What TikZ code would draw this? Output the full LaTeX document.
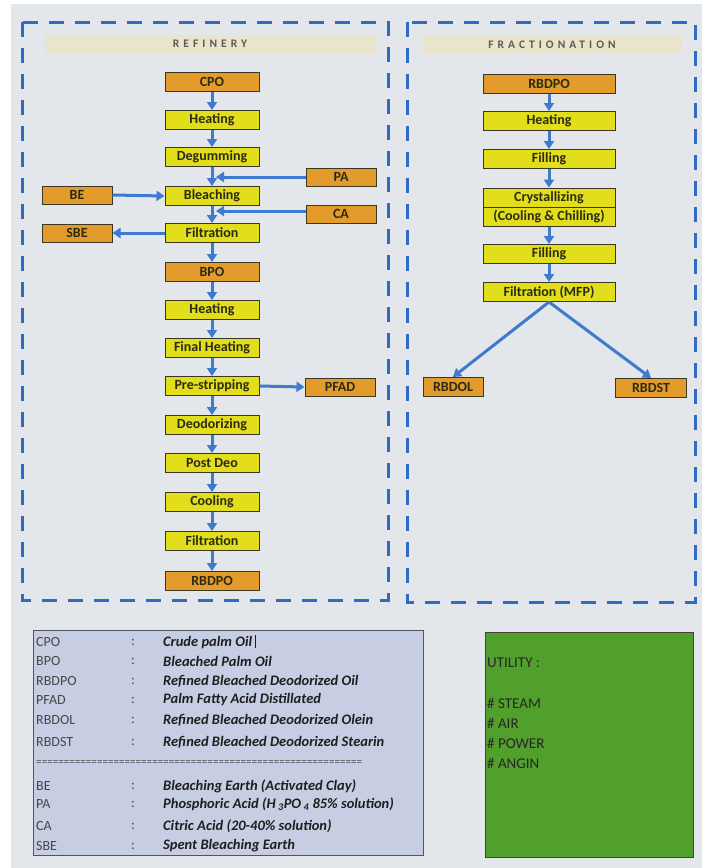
\documentclass[tikz,border=0pt]{standalone}
\usepackage{fontspec}
\setmainfont{Carlito}
\usetikzlibrary{arrows.meta}
\definecolor{bggray}{HTML}{E3E6EA}
\definecolor{dashblue}{HTML}{2F6BC2}
\definecolor{arrowblue}{HTML}{3E7AD0}
\definecolor{procyellow}{HTML}{E2DE1C}
\definecolor{prodorange}{HTML}{E39C2C}
\definecolor{boxline}{HTML}{3A3820}
\definecolor{titlebg}{HTML}{EAE4CB}
\definecolor{titletext}{HTML}{5A5A5A}
\definecolor{legendbg}{HTML}{C7CEE4}
\definecolor{legendline}{HTML}{505560}
\definecolor{utilgreen}{HTML}{51A02C}
\definecolor{labeltext}{HTML}{2C2A12}
\begin{document}
\begin{tikzpicture}[x=1pt,y=-1pt,
  proc/.style={draw=boxline, line width=1pt, fill=procyellow, minimum width=94pt,
    minimum height=19pt, inner sep=0pt, text=labeltext,
    font=\fontsize{14}{16}\selectfont\bfseries},
  prod/.style={proc, fill=prodorange},
  sidebox/.style={prod, minimum width=70pt, minimum height=18pt},
  fracbox/.style={proc, minimum width=132pt},
  arr/.style={draw=arrowblue, line width=3pt, -{Triangle[length=8pt,width=10pt]}},
  dashborder/.style={draw=dashblue, line width=3pt, dash pattern=on 15pt off 11pt},
  titlebar/.style={fill=titlebg, minimum height=18pt, inner sep=0pt, text=titletext,
    font=\fontsize{11.5}{13}\selectfont\bfseries\addfontfeature{LetterSpace=35}},
  abbr/.style={anchor=west, inner sep=0pt, text=black!72, font=\fontsize{14}{16}\selectfont},
  desc/.style={anchor=west, inner sep=0pt, text=black!88, font=\fontsize{14.5}{16}\selectfont\bfseries\itshape},
  util/.style={anchor=west, inner sep=0pt, text=black!85, font=\fontsize{15}{17}\selectfont}
]
\useasboundingbox (0,0) rectangle (702,868);
\fill[white] (0,0) rectangle (702,868);
\fill[bggray] (11,4) rectangle (702,868);

% panels
\draw[dashborder] (22,22) rectangle (388,600);
\draw[dashborder] (407,22) rectangle (695,602);
\node[titlebar, minimum width=330pt] (tref) at (210,44) {REFINERY};
\node[titlebar, minimum width=259pt] (tfrac) at (552,45) {FRACTIONATION};

% refinery column
\node[prod] (cpo)   at (212,82)  {CPO};
\node[proc] (heat1) at (212,120) {Heating};
\node[proc] (degum) at (212,157) {Degumming};
\node[proc] (bleach) at (212,196) {Bleaching};
\node[proc] (filt1) at (212,233) {Filtration};
\node[prod] (bpo)   at (212,272) {BPO};
\node[proc] (heat2) at (212,310) {Heating};
\node[proc] (fheat) at (212,348) {Final Heating};
\node[proc] (pre)   at (212,386) {Pre-stripping};
\node[proc] (deo)   at (212,425) {Deodorizing};
\node[proc] (post)  at (212,463) {Post Deo};
\node[proc] (cool)  at (212,502) {Cooling};
\node[proc] (filt2) at (212,541) {Filtration};
\node[prod] (rbdpo1) at (212,581) {RBDPO};

\node[sidebox] (be)  at (77,195)  {BE};
\node[sidebox] (sbe) at (77,233)  {SBE};
\node[sidebox] (pa)  at (341,177) {PA};
\node[sidebox] (ca)  at (341,214) {CA};
\node[sidebox] (pfad) at (340,387) {PFAD};

\foreach \a/\b in {cpo/heat1, heat1/degum, degum/bleach, bleach/filt1, filt1/bpo,
  bpo/heat2, heat2/fheat, fheat/pre, pre/deo, deo/post, post/cool, cool/filt2, filt2/rbdpo1}
  \draw[arr] (\a.south) -- (\b.north);

\coordinate (jx) at (216,0);
\draw[arr] (pa.west) -- (pa.west -| jx);
\draw[arr] ([yshift=3pt]ca.west) -- ([yshift=3pt]ca.west -| jx);
\draw[arr] (be.east) -- (bleach.west);
\draw[arr] (filt1.west) -- (sbe.east);
\draw[arr] (pre.east) -- (pfad.west);

% fractionation column
\node[fracbox, fill=prodorange] (rbdpo2) at (549,84) {RBDPO};
\node[fracbox] (fheat1) at (549,121) {Heating};
\node[fracbox] (fill1)  at (549,159) {Filling};
\node[fracbox] (cry1)   at (549,197.5) {Crystallizing};
\node[fracbox] (cry2)   at (549,216.5) {(Cooling \& Chilling)};
\node[fracbox] (fill2)  at (549,254) {Filling};
\node[fracbox] (mfp)    at (549,292) {Filtration (MFP)};
\node[prod, minimum width=60pt] (rbdol) at (453,387) {RBDOL};
\node[prod, minimum width=71pt] (rbdst) at (651,388) {RBDST};

\foreach \a/\b in {rbdpo2/fheat1, fheat1/fill1, fill1/cry1, cry2/fill2, fill2/mfp}
  \draw[arr] (\a.south) -- (\b.north);
\draw[arr] (mfp.south) -- (rbdol.north);
\draw[arr] (mfp.south) -- (rbdst.north);

% legend
\draw[legendline, line width=1pt, fill=legendbg] (33,630) rectangle (423,855);
\foreach \y/\ab/\de [count=\i] in {
  642/CPO/{Crude palm Oil\,\rule[-2pt]{1pt}{13pt}},
  661/BPO/{Bleached Palm Oil},
  681/RBDPO/{Refined Bleached Deodorized Oil},
  700/PFAD/{Palm Fatty Acid Distillated},
  720/RBDOL/{Refined Bleached Deodorized Olein},
  742/RBDST/{Refined Bleached Deodorized Stearin},
  786/BE/{Bleaching Earth (Activated Clay)},
  804/PA/{Phosphoric Acid (H\,\textsubscript{3}PO\,\textsubscript{4} 85\% solution)},
  826/CA/{Citric Acid (20-40\% solution)},
  846/SBE/{Spent Bleaching Earth}} {
  \node[abbr] (ab\i) at (36,\y) {\ab};
  \node[abbr] (co\i) at (131,\y) {:};
  \node[desc] (de\i) at (163,\y) {\de};
}
\node[abbr, font=\fontsize{11}{12}\selectfont] (eqline) at (36,763) {\hbox to 326pt{\xleaders\hbox{=}\hfill}};

% utility
\draw[black!75, line width=1pt, fill=utilgreen] (485,632) rectangle (693,857);
\node[util] (u0) at (487,663) {UTILITY :};
\node[util] (u1) at (487,703) {\# STEAM};
\node[util] (u2) at (487,723) {\# AIR};
\node[util] (u3) at (487,743) {\# POWER};
\node[util] (u4) at (487,763) {\# ANGIN};
\end{tikzpicture}
\end{document}
